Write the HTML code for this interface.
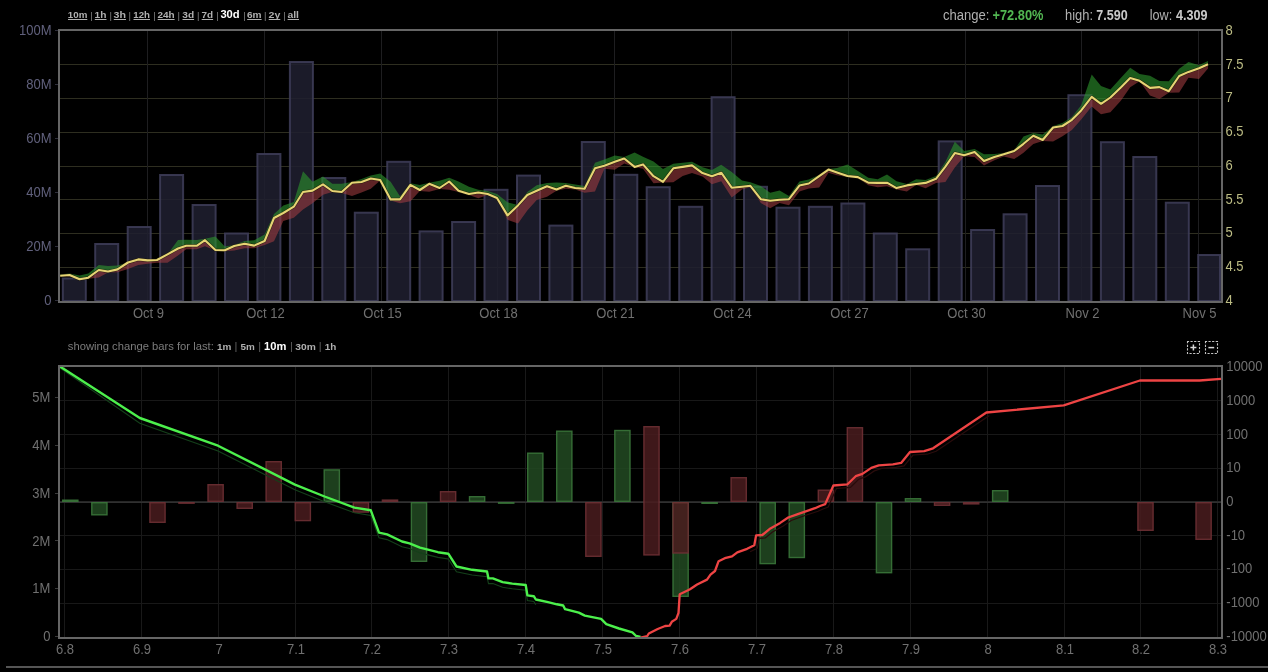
<!DOCTYPE html>
<html><head><meta charset="utf-8"><style>
html,body{margin:0;padding:0;background:#000;}
body{width:1268px;height:672px;overflow:hidden;position:relative;font-family:"Liberation Sans",Arial,sans-serif;}
svg{position:absolute;left:0;top:0;will-change:transform;}
svg text{font-family:"Liberation Sans",Arial,sans-serif;}
</style></head><body>
<svg width="1268" height="672" viewBox="0 0 1268 672">
<line x1="60" x2="1221" y1="64.5" y2="64.5" stroke="#2e2e20" stroke-width="1"/>
<line x1="60" x2="1221" y1="98.5" y2="98.5" stroke="#2e2e20" stroke-width="1"/>
<line x1="60" x2="1221" y1="132.5" y2="132.5" stroke="#2e2e20" stroke-width="1"/>
<line x1="60" x2="1221" y1="166.5" y2="166.5" stroke="#2e2e20" stroke-width="1"/>
<line x1="60" x2="1221" y1="199.5" y2="199.5" stroke="#2e2e20" stroke-width="1"/>
<line x1="60" x2="1221" y1="233.5" y2="233.5" stroke="#2e2e20" stroke-width="1"/>
<line x1="60" x2="1221" y1="267.5" y2="267.5" stroke="#2e2e20" stroke-width="1"/>
<line x1="147.5" x2="147.5" y1="31" y2="301" stroke="#1e1e20" stroke-width="1"/>
<line x1="264.5" x2="264.5" y1="31" y2="301" stroke="#1e1e20" stroke-width="1"/>
<line x1="381.5" x2="381.5" y1="31" y2="301" stroke="#1e1e20" stroke-width="1"/>
<line x1="497.5" x2="497.5" y1="31" y2="301" stroke="#1e1e20" stroke-width="1"/>
<line x1="614.5" x2="614.5" y1="31" y2="301" stroke="#1e1e20" stroke-width="1"/>
<line x1="731.5" x2="731.5" y1="31" y2="301" stroke="#1e1e20" stroke-width="1"/>
<line x1="848.5" x2="848.5" y1="31" y2="301" stroke="#1e1e20" stroke-width="1"/>
<line x1="965.5" x2="965.5" y1="31" y2="301" stroke="#1e1e20" stroke-width="1"/>
<line x1="1081.5" x2="1081.5" y1="31" y2="301" stroke="#1e1e20" stroke-width="1"/>
<line x1="1198.5" x2="1198.5" y1="31" y2="301" stroke="#1e1e20" stroke-width="1"/>
<rect x="62.8" y="278.5" width="23.0" height="22.5" fill="rgba(32,31,48,0.86)" stroke="rgba(62,60,88,0.88)" stroke-width="2"/>
<rect x="95.2" y="244.0" width="23.0" height="57.0" fill="rgba(32,31,48,0.86)" stroke="rgba(62,60,88,0.88)" stroke-width="2"/>
<rect x="127.7" y="227.0" width="23.0" height="74.0" fill="rgba(32,31,48,0.86)" stroke="rgba(62,60,88,0.88)" stroke-width="2"/>
<rect x="160.1" y="175.0" width="23.0" height="126.0" fill="rgba(32,31,48,0.86)" stroke="rgba(62,60,88,0.88)" stroke-width="2"/>
<rect x="192.6" y="205.0" width="23.0" height="96.0" fill="rgba(32,31,48,0.86)" stroke="rgba(62,60,88,0.88)" stroke-width="2"/>
<rect x="225.0" y="233.5" width="23.0" height="67.5" fill="rgba(32,31,48,0.86)" stroke="rgba(62,60,88,0.88)" stroke-width="2"/>
<rect x="257.4" y="154.0" width="23.0" height="147.0" fill="rgba(32,31,48,0.86)" stroke="rgba(62,60,88,0.88)" stroke-width="2"/>
<rect x="289.9" y="62.0" width="23.0" height="239.0" fill="rgba(32,31,48,0.86)" stroke="rgba(62,60,88,0.88)" stroke-width="2"/>
<rect x="322.3" y="178.0" width="23.0" height="123.0" fill="rgba(32,31,48,0.86)" stroke="rgba(62,60,88,0.88)" stroke-width="2"/>
<rect x="354.8" y="212.7" width="23.0" height="88.3" fill="rgba(32,31,48,0.86)" stroke="rgba(62,60,88,0.88)" stroke-width="2"/>
<rect x="387.2" y="161.8" width="23.0" height="139.2" fill="rgba(32,31,48,0.86)" stroke="rgba(62,60,88,0.88)" stroke-width="2"/>
<rect x="419.6" y="231.4" width="23.0" height="69.6" fill="rgba(32,31,48,0.86)" stroke="rgba(62,60,88,0.88)" stroke-width="2"/>
<rect x="452.1" y="222.0" width="23.0" height="79.0" fill="rgba(32,31,48,0.86)" stroke="rgba(62,60,88,0.88)" stroke-width="2"/>
<rect x="484.5" y="189.8" width="23.0" height="111.2" fill="rgba(32,31,48,0.86)" stroke="rgba(62,60,88,0.88)" stroke-width="2"/>
<rect x="517.0" y="175.6" width="23.0" height="125.4" fill="rgba(32,31,48,0.86)" stroke="rgba(62,60,88,0.88)" stroke-width="2"/>
<rect x="549.4" y="225.6" width="23.0" height="75.4" fill="rgba(32,31,48,0.86)" stroke="rgba(62,60,88,0.88)" stroke-width="2"/>
<rect x="581.8" y="142.0" width="23.0" height="159.0" fill="rgba(32,31,48,0.86)" stroke="rgba(62,60,88,0.88)" stroke-width="2"/>
<rect x="614.3" y="174.8" width="23.0" height="126.2" fill="rgba(32,31,48,0.86)" stroke="rgba(62,60,88,0.88)" stroke-width="2"/>
<rect x="646.7" y="187.2" width="23.0" height="113.8" fill="rgba(32,31,48,0.86)" stroke="rgba(62,60,88,0.88)" stroke-width="2"/>
<rect x="679.2" y="206.8" width="23.0" height="94.2" fill="rgba(32,31,48,0.86)" stroke="rgba(62,60,88,0.88)" stroke-width="2"/>
<rect x="711.6" y="97.2" width="23.0" height="203.8" fill="rgba(32,31,48,0.86)" stroke="rgba(62,60,88,0.88)" stroke-width="2"/>
<rect x="744.0" y="186.8" width="23.0" height="114.2" fill="rgba(32,31,48,0.86)" stroke="rgba(62,60,88,0.88)" stroke-width="2"/>
<rect x="776.5" y="207.7" width="23.0" height="93.3" fill="rgba(32,31,48,0.86)" stroke="rgba(62,60,88,0.88)" stroke-width="2"/>
<rect x="808.9" y="206.8" width="23.0" height="94.2" fill="rgba(32,31,48,0.86)" stroke="rgba(62,60,88,0.88)" stroke-width="2"/>
<rect x="841.4" y="203.5" width="23.0" height="97.5" fill="rgba(32,31,48,0.86)" stroke="rgba(62,60,88,0.88)" stroke-width="2"/>
<rect x="873.8" y="233.5" width="23.0" height="67.5" fill="rgba(32,31,48,0.86)" stroke="rgba(62,60,88,0.88)" stroke-width="2"/>
<rect x="906.2" y="249.3" width="23.0" height="51.7" fill="rgba(32,31,48,0.86)" stroke="rgba(62,60,88,0.88)" stroke-width="2"/>
<rect x="938.7" y="141.4" width="23.0" height="159.6" fill="rgba(32,31,48,0.86)" stroke="rgba(62,60,88,0.88)" stroke-width="2"/>
<rect x="971.1" y="230.0" width="23.0" height="71.0" fill="rgba(32,31,48,0.86)" stroke="rgba(62,60,88,0.88)" stroke-width="2"/>
<rect x="1003.6" y="214.3" width="23.0" height="86.7" fill="rgba(32,31,48,0.86)" stroke="rgba(62,60,88,0.88)" stroke-width="2"/>
<rect x="1036.0" y="186.0" width="23.0" height="115.0" fill="rgba(32,31,48,0.86)" stroke="rgba(62,60,88,0.88)" stroke-width="2"/>
<rect x="1068.4" y="95.2" width="23.0" height="205.8" fill="rgba(32,31,48,0.86)" stroke="rgba(62,60,88,0.88)" stroke-width="2"/>
<rect x="1100.9" y="142.2" width="23.0" height="158.8" fill="rgba(32,31,48,0.86)" stroke="rgba(62,60,88,0.88)" stroke-width="2"/>
<rect x="1133.3" y="157.0" width="23.0" height="144.0" fill="rgba(32,31,48,0.86)" stroke="rgba(62,60,88,0.88)" stroke-width="2"/>
<rect x="1165.8" y="202.7" width="23.0" height="98.3" fill="rgba(32,31,48,0.86)" stroke="rgba(62,60,88,0.88)" stroke-width="2"/>
<rect x="1198.2" y="255.0" width="21.8" height="46.0" fill="rgba(32,31,48,0.86)" stroke="rgba(62,60,88,0.88)" stroke-width="2"/>
<path d="M60.2,274.5 L69.6,273.5 L79.6,275.5 L88.3,273.5 L98.8,265.0 L108.0,266.0 L117.5,265.5 L128.0,262.5 L138.3,259.4 L147.7,260.4 L157.0,260.0 L167.5,254.4 L178.0,240.0 L186.2,239.8 L196.7,240.0 L205.0,238.8 L215.4,236.5 L224.8,246.5 L234.2,245.0 L244.6,241.0 L254.2,240.2 L264.6,234.4 L274.0,214.0 L283.3,205.5 L293.8,202.0 L303.0,171.3 L312.5,181.7 L323.0,176.5 L332.3,183.8 L341.7,183.8 L352.0,182.0 L361.5,179.0 L370.8,175.5 L380.2,173.4 L390.6,181.7 L400.0,196.3 L410.4,183.3 L419.8,185.0 L429.2,182.7 L439.6,180.7 L449.2,177.8 L458.5,181.5 L469.0,186.7 L478.3,189.8 L487.7,190.9 L497.0,194.0 L507.5,202.3 L518.0,205.1 L527.3,192.0 L536.7,185.2 L547.0,183.0 L556.5,182.5 L565.8,183.0 L575.2,184.6 L584.6,186.0 L595.0,162.8 L604.4,159.6 L614.8,155.5 L624.2,157.0 L634.6,152.5 L643.0,156.7 L653.5,161.5 L663.0,169.0 L673.3,163.8 L682.7,162.7 L692.0,161.7 L702.5,167.3 L711.9,170.0 L721.2,164.8 L731.7,172.1 L742.0,180.5 L750.4,182.2 L760.8,186.1 L770.2,192.8 L779.6,190.5 L789.0,196.0 L799.4,181.5 L808.8,179.4 L819.2,175.0 L828.5,169.0 L837.0,168.1 L847.5,164.6 L857.9,170.9 L868.3,177.8 L877.7,179.2 L887.0,174.4 L896.5,181.3 L906.9,184.0 L916.2,179.2 L925.6,180.0 L936.0,176.0 L945.4,162.0 L954.8,141.7 L964.2,151.1 L974.6,149.0 L984.0,154.2 L994.4,154.0 L1003.8,153.0 L1014.2,150.0 L1023.5,136.5 L1033.3,133.0 L1042.7,134.4 L1053.1,126.0 L1062.5,123.0 L1071.9,117.0 L1081.2,105.2 L1091.7,74.4 L1101.0,86.1 L1110.4,89.6 L1120.8,78.1 L1130.2,67.8 L1139.6,74.0 L1150.0,75.7 L1159.4,80.9 L1168.8,81.3 L1179.2,68.8 L1188.5,61.9 L1199.0,65.2 L1208.0,61.0 L1208.0,64.2 L1199.0,68.3 L1188.5,71.9 L1179.2,76.0 L1168.8,91.2 L1159.4,87.1 L1150.0,87.9 L1139.6,80.8 L1130.2,78.1 L1120.8,87.5 L1110.4,97.5 L1101.0,103.8 L1091.7,96.9 L1081.2,110.4 L1071.9,119.8 L1062.5,126.0 L1053.1,127.5 L1042.7,140.0 L1033.3,135.8 L1023.5,143.8 L1014.2,151.0 L1003.8,154.2 L994.4,156.9 L984.0,161.0 L974.6,152.1 L964.2,155.2 L954.8,153.1 L945.4,166.7 L936.0,178.8 L925.6,182.9 L916.2,184.0 L906.9,185.4 L896.5,188.1 L887.0,182.7 L877.7,182.9 L868.3,182.7 L857.9,177.1 L847.5,176.0 L837.0,172.5 L828.5,169.6 L819.2,176.2 L808.8,183.5 L799.4,185.6 L789.0,199.2 L779.6,199.8 L770.2,200.8 L760.8,199.2 L750.4,185.8 L742.0,186.7 L731.7,187.7 L721.2,172.7 L711.9,176.2 L702.5,173.1 L692.0,165.4 L682.7,166.9 L673.3,168.3 L663.0,181.9 L653.5,176.2 L643.0,164.4 L634.6,166.9 L624.2,158.5 L614.8,161.7 L604.4,165.8 L595.0,168.3 L584.6,188.8 L575.2,188.0 L565.8,185.8 L556.5,189.4 L547.0,186.2 L536.7,190.8 L527.3,195.0 L518.0,205.4 L507.5,215.4 L497.0,198.0 L487.7,194.0 L478.3,192.5 L469.0,194.0 L458.5,190.8 L449.2,181.5 L439.6,188.0 L429.2,183.8 L419.8,190.0 L410.4,184.8 L400.0,199.4 L390.6,199.4 L380.2,180.0 L370.8,178.5 L361.5,182.0 L352.0,182.7 L341.7,192.0 L332.3,191.0 L323.0,184.4 L312.5,190.6 L303.0,192.0 L293.8,206.7 L283.3,213.0 L274.0,218.0 L264.6,241.0 L254.2,245.6 L244.6,243.8 L234.2,246.0 L224.8,250.2 L215.4,250.0 L205.0,240.2 L196.7,245.8 L186.2,245.8 L178.0,248.5 L167.5,254.4 L157.0,260.0 L147.7,260.4 L138.3,259.4 L128.0,262.5 L117.5,269.4 L108.0,271.5 L98.8,270.0 L88.3,277.7 L79.6,279.2 L69.6,275.0 L60.2,275.8 Z" fill="rgba(45,150,45,0.6)"/>
<path d="M60.2,275.8 L69.6,275.0 L79.6,279.2 L88.3,277.7 L98.8,270.0 L108.0,271.5 L117.5,269.4 L128.0,262.5 L138.3,259.4 L147.7,260.4 L157.0,260.0 L167.5,254.4 L178.0,248.5 L186.2,245.8 L196.7,245.8 L205.0,240.2 L215.4,250.0 L224.8,250.2 L234.2,246.0 L244.6,243.8 L254.2,245.6 L264.6,241.0 L274.0,218.0 L283.3,213.0 L293.8,206.7 L303.0,192.0 L312.5,190.6 L323.0,184.4 L332.3,191.0 L341.7,192.0 L352.0,182.7 L361.5,182.0 L370.8,178.5 L380.2,180.0 L390.6,199.4 L400.0,199.4 L410.4,184.8 L419.8,190.0 L429.2,183.8 L439.6,188.0 L449.2,181.5 L458.5,190.8 L469.0,194.0 L478.3,192.5 L487.7,194.0 L497.0,198.0 L507.5,215.4 L518.0,205.4 L527.3,195.0 L536.7,190.8 L547.0,186.2 L556.5,189.4 L565.8,185.8 L575.2,188.0 L584.6,188.8 L595.0,168.3 L604.4,165.8 L614.8,161.7 L624.2,158.5 L634.6,166.9 L643.0,164.4 L653.5,176.2 L663.0,181.9 L673.3,168.3 L682.7,166.9 L692.0,165.4 L702.5,173.1 L711.9,176.2 L721.2,172.7 L731.7,187.7 L742.0,186.7 L750.4,185.8 L760.8,199.2 L770.2,200.8 L779.6,199.8 L789.0,199.2 L799.4,185.6 L808.8,183.5 L819.2,176.2 L828.5,169.6 L837.0,172.5 L847.5,176.0 L857.9,177.1 L868.3,182.7 L877.7,182.9 L887.0,182.7 L896.5,188.1 L906.9,185.4 L916.2,184.0 L925.6,182.9 L936.0,178.8 L945.4,166.7 L954.8,153.1 L964.2,155.2 L974.6,152.1 L984.0,161.0 L994.4,156.9 L1003.8,154.2 L1014.2,151.0 L1023.5,143.8 L1033.3,135.8 L1042.7,140.0 L1053.1,127.5 L1062.5,126.0 L1071.9,119.8 L1081.2,110.4 L1091.7,96.9 L1101.0,103.8 L1110.4,97.5 L1120.8,87.5 L1130.2,78.1 L1139.6,80.8 L1150.0,87.9 L1159.4,87.1 L1168.8,91.2 L1179.2,76.0 L1188.5,71.9 L1199.0,68.3 L1208.0,64.2 L1208.0,68.5 L1199.0,79.1 L1188.5,77.8 L1179.2,92.5 L1168.8,92.7 L1159.4,99.1 L1150.0,95.6 L1139.6,81.2 L1130.2,87.3 L1120.8,100.8 L1110.4,112.3 L1101.0,114.3 L1091.7,106.6 L1081.2,119.5 L1071.9,130.0 L1062.5,136.2 L1053.1,141.4 L1042.7,141.0 L1033.3,144.1 L1023.5,152.8 L1014.2,159.1 L1003.8,156.6 L994.4,160.2 L984.0,165.4 L974.6,157.1 L964.2,156.2 L954.8,167.5 L945.4,182.1 L936.0,183.1 L925.6,188.3 L916.2,185.0 L906.9,191.4 L896.5,189.6 L887.0,186.2 L877.7,187.3 L868.3,185.2 L857.9,178.0 L847.5,177.0 L837.0,175.3 L828.5,172.8 L819.2,187.5 L808.8,188.5 L799.4,191.6 L789.0,205.2 L779.6,203.1 L770.2,208.3 L760.8,203.1 L750.4,187.0 L742.0,189.6 L731.7,197.5 L721.2,181.2 L711.9,184.3 L702.5,176.6 L692.0,172.9 L682.7,176.0 L673.3,182.3 L663.0,182.5 L653.5,183.3 L643.0,168.7 L634.6,167.0 L624.2,163.5 L614.8,169.8 L604.4,168.8 L595.0,191.6 L584.6,192.7 L575.2,189.5 L565.8,188.8 L556.5,190.8 L547.0,196.8 L536.7,200.0 L527.3,210.4 L518.0,223.5 L507.5,219.8 L497.0,199.0 L487.7,195.0 L478.3,198.3 L469.0,195.0 L458.5,192.0 L449.2,189.8 L439.6,189.0 L429.2,191.8 L419.8,191.0 L410.4,201.2 L400.0,203.3 L390.6,200.4 L380.2,180.6 L370.8,188.8 L361.5,192.4 L352.0,196.0 L341.7,193.0 L332.3,192.0 L323.0,194.8 L312.5,203.3 L303.0,209.6 L293.8,217.8 L283.3,221.0 L274.0,241.2 L264.6,245.1 L254.2,248.3 L244.6,248.3 L234.2,250.4 L224.8,251.2 L215.4,250.6 L205.0,246.2 L196.7,249.3 L186.2,249.3 L178.0,255.6 L167.5,262.8 L157.0,262.8 L147.7,263.8 L138.3,265.0 L128.0,269.1 L117.5,272.3 L108.0,272.5 L98.8,277.6 L88.3,278.8 L79.6,280.0 L69.6,276.5 L60.2,276.5 Z" fill="rgba(165,62,66,0.56)"/>
<path d="M60.2,275.8 L69.6,275.0 L79.6,279.2 L88.3,277.7 L98.8,270.0 L108.0,271.5 L117.5,269.4 L128.0,262.5 L138.3,259.4 L147.7,260.4 L157.0,260.0 L167.5,254.4 L178.0,248.5 L186.2,245.8 L196.7,245.8 L205.0,240.2 L215.4,250.0 L224.8,250.2 L234.2,246.0 L244.6,243.8 L254.2,245.6 L264.6,241.0 L274.0,218.0 L283.3,213.0 L293.8,206.7 L303.0,192.0 L312.5,190.6 L323.0,184.4 L332.3,191.0 L341.7,192.0 L352.0,182.7 L361.5,182.0 L370.8,178.5 L380.2,180.0 L390.6,199.4 L400.0,199.4 L410.4,184.8 L419.8,190.0 L429.2,183.8 L439.6,188.0 L449.2,181.5 L458.5,190.8 L469.0,194.0 L478.3,192.5 L487.7,194.0 L497.0,198.0 L507.5,215.4 L518.0,205.4 L527.3,195.0 L536.7,190.8 L547.0,186.2 L556.5,189.4 L565.8,185.8 L575.2,188.0 L584.6,188.8 L595.0,168.3 L604.4,165.8 L614.8,161.7 L624.2,158.5 L634.6,166.9 L643.0,164.4 L653.5,176.2 L663.0,181.9 L673.3,168.3 L682.7,166.9 L692.0,165.4 L702.5,173.1 L711.9,176.2 L721.2,172.7 L731.7,187.7 L742.0,186.7 L750.4,185.8 L760.8,199.2 L770.2,200.8 L779.6,199.8 L789.0,199.2 L799.4,185.6 L808.8,183.5 L819.2,176.2 L828.5,169.6 L837.0,172.5 L847.5,176.0 L857.9,177.1 L868.3,182.7 L877.7,182.9 L887.0,182.7 L896.5,188.1 L906.9,185.4 L916.2,184.0 L925.6,182.9 L936.0,178.8 L945.4,166.7 L954.8,153.1 L964.2,155.2 L974.6,152.1 L984.0,161.0 L994.4,156.9 L1003.8,154.2 L1014.2,151.0 L1023.5,143.8 L1033.3,135.8 L1042.7,140.0 L1053.1,127.5 L1062.5,126.0 L1071.9,119.8 L1081.2,110.4 L1091.7,96.9 L1101.0,103.8 L1110.4,97.5 L1120.8,87.5 L1130.2,78.1 L1139.6,80.8 L1150.0,87.9 L1159.4,87.1 L1168.8,91.2 L1179.2,76.0 L1188.5,71.9 L1199.0,68.3 L1208.0,64.2" fill="none" stroke="rgba(30,24,8,0.75)" stroke-width="3.1" stroke-linejoin="round"/>
<path d="M60.2,275.8 L69.6,275.0 L79.6,279.2 L88.3,277.7 L98.8,270.0 L108.0,271.5 L117.5,269.4 L128.0,262.5 L138.3,259.4 L147.7,260.4 L157.0,260.0 L167.5,254.4 L178.0,248.5 L186.2,245.8 L196.7,245.8 L205.0,240.2 L215.4,250.0 L224.8,250.2 L234.2,246.0 L244.6,243.8 L254.2,245.6 L264.6,241.0 L274.0,218.0 L283.3,213.0 L293.8,206.7 L303.0,192.0 L312.5,190.6 L323.0,184.4 L332.3,191.0 L341.7,192.0 L352.0,182.7 L361.5,182.0 L370.8,178.5 L380.2,180.0 L390.6,199.4 L400.0,199.4 L410.4,184.8 L419.8,190.0 L429.2,183.8 L439.6,188.0 L449.2,181.5 L458.5,190.8 L469.0,194.0 L478.3,192.5 L487.7,194.0 L497.0,198.0 L507.5,215.4 L518.0,205.4 L527.3,195.0 L536.7,190.8 L547.0,186.2 L556.5,189.4 L565.8,185.8 L575.2,188.0 L584.6,188.8 L595.0,168.3 L604.4,165.8 L614.8,161.7 L624.2,158.5 L634.6,166.9 L643.0,164.4 L653.5,176.2 L663.0,181.9 L673.3,168.3 L682.7,166.9 L692.0,165.4 L702.5,173.1 L711.9,176.2 L721.2,172.7 L731.7,187.7 L742.0,186.7 L750.4,185.8 L760.8,199.2 L770.2,200.8 L779.6,199.8 L789.0,199.2 L799.4,185.6 L808.8,183.5 L819.2,176.2 L828.5,169.6 L837.0,172.5 L847.5,176.0 L857.9,177.1 L868.3,182.7 L877.7,182.9 L887.0,182.7 L896.5,188.1 L906.9,185.4 L916.2,184.0 L925.6,182.9 L936.0,178.8 L945.4,166.7 L954.8,153.1 L964.2,155.2 L974.6,152.1 L984.0,161.0 L994.4,156.9 L1003.8,154.2 L1014.2,151.0 L1023.5,143.8 L1033.3,135.8 L1042.7,140.0 L1053.1,127.5 L1062.5,126.0 L1071.9,119.8 L1081.2,110.4 L1091.7,96.9 L1101.0,103.8 L1110.4,97.5 L1120.8,87.5 L1130.2,78.1 L1139.6,80.8 L1150.0,87.9 L1159.4,87.1 L1168.8,91.2 L1179.2,76.0 L1188.5,71.9 L1199.0,68.3 L1208.0,64.2" fill="none" stroke="#e6d474" stroke-width="2.1" stroke-linejoin="round"/>
<path d="M59,302 L59,30 L1222,30 L1222,302 Z" fill="none" stroke="#666" stroke-width="2"/>
<line x1="60" x2="1221" y1="400.5" y2="400.5" stroke="#181818" stroke-width="1"/>
<line x1="60" x2="1221" y1="434.5" y2="434.5" stroke="#181818" stroke-width="1"/>
<line x1="60" x2="1221" y1="468.5" y2="468.5" stroke="#181818" stroke-width="1"/>
<line x1="60" x2="1221" y1="535.5" y2="535.5" stroke="#181818" stroke-width="1"/>
<line x1="60" x2="1221" y1="569.5" y2="569.5" stroke="#181818" stroke-width="1"/>
<line x1="60" x2="1221" y1="603.5" y2="603.5" stroke="#181818" stroke-width="1"/>
<line x1="64.5" x2="64.5" y1="367" y2="637" stroke="#191919" stroke-width="1"/>
<line x1="141.5" x2="141.5" y1="367" y2="637" stroke="#191919" stroke-width="1"/>
<line x1="218.5" x2="218.5" y1="367" y2="637" stroke="#191919" stroke-width="1"/>
<line x1="295.5" x2="295.5" y1="367" y2="637" stroke="#191919" stroke-width="1"/>
<line x1="371.5" x2="371.5" y1="367" y2="637" stroke="#191919" stroke-width="1"/>
<line x1="448.5" x2="448.5" y1="367" y2="637" stroke="#191919" stroke-width="1"/>
<line x1="525.5" x2="525.5" y1="367" y2="637" stroke="#191919" stroke-width="1"/>
<line x1="602.5" x2="602.5" y1="367" y2="637" stroke="#191919" stroke-width="1"/>
<line x1="679.5" x2="679.5" y1="367" y2="637" stroke="#191919" stroke-width="1"/>
<line x1="756.5" x2="756.5" y1="367" y2="637" stroke="#191919" stroke-width="1"/>
<line x1="833.5" x2="833.5" y1="367" y2="637" stroke="#191919" stroke-width="1"/>
<line x1="910.5" x2="910.5" y1="367" y2="637" stroke="#191919" stroke-width="1"/>
<line x1="987.5" x2="987.5" y1="367" y2="637" stroke="#191919" stroke-width="1"/>
<line x1="1064.5" x2="1064.5" y1="367" y2="637" stroke="#191919" stroke-width="1"/>
<line x1="1140.5" x2="1140.5" y1="367" y2="637" stroke="#191919" stroke-width="1"/>
<line x1="1217.5" x2="1217.5" y1="367" y2="637" stroke="#191919" stroke-width="1"/>
<line x1="60" x2="1221" y1="501.5" y2="501.5" stroke="#262626" stroke-width="1"/>
<line x1="60" x2="1221" y1="502.5" y2="502.5" stroke="#303030" stroke-width="1"/>
<line x1="55" x2="58" y1="636.5" y2="636.5" stroke="#3a3a3a" stroke-width="1"/>
<line x1="55" x2="58" y1="588.5" y2="588.5" stroke="#3a3a3a" stroke-width="1"/>
<line x1="55" x2="58" y1="540.5" y2="540.5" stroke="#3a3a3a" stroke-width="1"/>
<line x1="55" x2="58" y1="493.5" y2="493.5" stroke="#3a3a3a" stroke-width="1"/>
<line x1="55" x2="58" y1="445.5" y2="445.5" stroke="#3a3a3a" stroke-width="1"/>
<line x1="55" x2="58" y1="397.5" y2="397.5" stroke="#3a3a3a" stroke-width="1"/>
<line x1="55" x2="58" y1="30.5" y2="30.5" stroke="#2e2e3a" stroke-width="1"/>
<line x1="55" x2="58" y1="84.5" y2="84.5" stroke="#2e2e3a" stroke-width="1"/>
<line x1="55" x2="58" y1="138.5" y2="138.5" stroke="#2e2e3a" stroke-width="1"/>
<line x1="55" x2="58" y1="192.5" y2="192.5" stroke="#2e2e3a" stroke-width="1"/>
<line x1="55" x2="58" y1="246.5" y2="246.5" stroke="#2e2e3a" stroke-width="1"/>
<line x1="55" x2="58" y1="300.5" y2="300.5" stroke="#2e2e3a" stroke-width="1"/>
<rect x="62.7" y="500.2" width="15.2" height="1.1" fill="rgba(34,74,34,0.85)" stroke="rgba(58,118,58,0.9)" stroke-width="1.4"/>
<rect x="91.8" y="502.7" width="15.2" height="12.1" fill="rgba(34,74,34,0.85)" stroke="rgba(58,118,58,0.9)" stroke-width="1.4"/>
<rect x="149.9" y="502.7" width="15.2" height="19.6" fill="rgba(74,28,30,0.85)" stroke="rgba(110,48,52,0.9)" stroke-width="1.4"/>
<rect x="178.9" y="502.7" width="15.2" height="0.5" fill="rgba(74,28,30,0.85)" stroke="rgba(110,48,52,0.9)" stroke-width="1.4"/>
<rect x="208.0" y="484.7" width="15.2" height="16.6" fill="rgba(74,28,30,0.85)" stroke="rgba(110,48,52,0.9)" stroke-width="1.4"/>
<rect x="237.1" y="502.7" width="15.2" height="5.6" fill="rgba(74,28,30,0.85)" stroke="rgba(110,48,52,0.9)" stroke-width="1.4"/>
<rect x="266.1" y="461.7" width="15.2" height="39.6" fill="rgba(74,28,30,0.85)" stroke="rgba(110,48,52,0.9)" stroke-width="1.4"/>
<rect x="295.2" y="502.7" width="15.2" height="17.9" fill="rgba(74,28,30,0.85)" stroke="rgba(110,48,52,0.9)" stroke-width="1.4"/>
<rect x="324.2" y="469.9" width="15.2" height="31.4" fill="rgba(34,74,34,0.85)" stroke="rgba(58,118,58,0.9)" stroke-width="1.4"/>
<rect x="353.3" y="502.7" width="15.2" height="9.4" fill="rgba(74,28,30,0.85)" stroke="rgba(110,48,52,0.9)" stroke-width="1.4"/>
<rect x="382.4" y="500.1" width="15.2" height="1.2" fill="rgba(74,28,30,0.85)" stroke="rgba(110,48,52,0.9)" stroke-width="1.4"/>
<rect x="411.4" y="502.7" width="15.2" height="58.6" fill="rgba(34,74,34,0.85)" stroke="rgba(58,118,58,0.9)" stroke-width="1.4"/>
<rect x="440.5" y="491.7" width="15.2" height="9.6" fill="rgba(74,28,30,0.85)" stroke="rgba(110,48,52,0.9)" stroke-width="1.4"/>
<rect x="469.5" y="496.7" width="15.2" height="4.6" fill="rgba(34,74,34,0.85)" stroke="rgba(58,118,58,0.9)" stroke-width="1.4"/>
<rect x="498.6" y="502.7" width="15.2" height="0.5" fill="rgba(34,74,34,0.85)" stroke="rgba(58,118,58,0.9)" stroke-width="1.4"/>
<rect x="527.7" y="453.2" width="15.2" height="48.1" fill="rgba(34,74,34,0.85)" stroke="rgba(58,118,58,0.9)" stroke-width="1.4"/>
<rect x="556.7" y="431.2" width="15.2" height="70.1" fill="rgba(34,74,34,0.85)" stroke="rgba(58,118,58,0.9)" stroke-width="1.4"/>
<rect x="585.8" y="502.7" width="15.2" height="53.6" fill="rgba(74,28,30,0.85)" stroke="rgba(110,48,52,0.9)" stroke-width="1.4"/>
<rect x="614.8" y="430.5" width="15.2" height="70.8" fill="rgba(34,74,34,0.85)" stroke="rgba(58,118,58,0.9)" stroke-width="1.4"/>
<rect x="643.9" y="426.7" width="15.2" height="128.2" fill="rgba(74,28,30,0.85)" stroke="rgba(110,48,52,0.9)" stroke-width="1.4"/>
<rect x="673.0" y="502.7" width="15.2" height="93.6" fill="rgba(34,74,34,0.85)" stroke="rgba(58,118,58,0.9)" stroke-width="1.4"/>
<rect x="673.0" y="502.7" width="15.2" height="50.3" fill="rgba(74,28,30,0.85)" stroke="rgba(110,48,52,0.9)" stroke-width="1.4"/>
<rect x="702.0" y="502.7" width="15.2" height="0.6" fill="rgba(34,74,34,0.85)" stroke="rgba(58,118,58,0.9)" stroke-width="1.4"/>
<rect x="731.1" y="477.7" width="15.2" height="23.6" fill="rgba(74,28,30,0.85)" stroke="rgba(110,48,52,0.9)" stroke-width="1.4"/>
<rect x="760.1" y="502.7" width="15.2" height="60.9" fill="rgba(34,74,34,0.85)" stroke="rgba(58,118,58,0.9)" stroke-width="1.4"/>
<rect x="789.2" y="502.7" width="15.2" height="54.8" fill="rgba(34,74,34,0.85)" stroke="rgba(58,118,58,0.9)" stroke-width="1.4"/>
<rect x="818.3" y="490.2" width="15.2" height="11.1" fill="rgba(74,28,30,0.85)" stroke="rgba(110,48,52,0.9)" stroke-width="1.4"/>
<rect x="847.3" y="427.7" width="15.2" height="73.6" fill="rgba(74,28,30,0.85)" stroke="rgba(110,48,52,0.9)" stroke-width="1.4"/>
<rect x="876.4" y="502.7" width="15.2" height="70.0" fill="rgba(34,74,34,0.85)" stroke="rgba(58,118,58,0.9)" stroke-width="1.4"/>
<rect x="905.4" y="498.7" width="15.2" height="2.6" fill="rgba(34,74,34,0.85)" stroke="rgba(58,118,58,0.9)" stroke-width="1.4"/>
<rect x="934.5" y="502.7" width="15.2" height="2.6" fill="rgba(74,28,30,0.85)" stroke="rgba(110,48,52,0.9)" stroke-width="1.4"/>
<rect x="963.6" y="502.7" width="15.2" height="1.2" fill="rgba(74,28,30,0.85)" stroke="rgba(110,48,52,0.9)" stroke-width="1.4"/>
<rect x="992.6" y="490.7" width="15.2" height="10.6" fill="rgba(34,74,34,0.85)" stroke="rgba(58,118,58,0.9)" stroke-width="1.4"/>
<rect x="1137.9" y="502.7" width="15.2" height="27.6" fill="rgba(74,28,30,0.85)" stroke="rgba(110,48,52,0.9)" stroke-width="1.4"/>
<rect x="1196.0" y="502.7" width="15.2" height="36.6" fill="rgba(74,28,30,0.85)" stroke="rgba(110,48,52,0.9)" stroke-width="1.4"/>
<path d="M60.0,368.0 L139.8,423.2 L218.0,450.9 L294.9,489.8 L324.6,501.7 L354.4,512.8 L370.8,515.5 L379.0,537.8 L387.1,539.6 L402.0,546.7 L409.5,548.5 L420.0,552.9 L437.9,557.4 L448.3,558.9 L456.5,571.7 L472.1,575.0 L487.0,576.7 L488.5,583.6 L492.9,583.6 L502.6,587.3 L512.3,588.8 L525.7,590.2 L527.4,600.6 L533.8,601.5 L535.8,604.7" fill="none" stroke="#14401a" stroke-width="1.1" />
<path d="M60.0,366.5 L139.8,418.0 L218.0,445.7 L294.9,484.6 L324.6,496.5 L354.4,507.6 L370.8,510.3 L379.0,532.6 L387.1,534.4 L402.0,541.5 L409.5,543.3 L420.0,547.7 L437.9,552.2 L448.3,553.7 L456.5,566.5 L472.1,569.8 L487.0,571.5 L488.5,578.4 L492.9,578.4 L502.6,582.1 L512.3,583.6 L525.7,585.0 L527.4,595.4 L533.8,596.2 L535.8,599.5 L548.0,602.2 L556.9,604.3 L563.2,605.5 L565.1,609.2 L578.8,612.6 L584.8,615.6 L601.1,618.9 L606.3,624.1 L619.0,628.5 L632.4,632.3 L636.1,636.0 L640.6,637.0" fill="none" stroke="#4cf04c" stroke-width="2.4" stroke-linejoin="round"/>
<path d="M750.1,551.8 L757.3,548.2 L759.1,538.4 L765.3,538.0 L772.5,532.1 L783.2,525.9 L791.2,520.5 L800.1,517.3 L807.3,514.8 L818.0,511.2 L823.0,509.0 L828.2,507.1 L836.4,488.5 L850.5,487.3 L858.7,479.2 L865.4,476.9 L874.3,470.9 L881.8,468.4 L895.9,467.3 L904.1,465.9 L913.0,455.0 L927.2,454.2 L936.1,451.3 L989.4,415.5" fill="none" stroke="#2a0c0c" stroke-width="1.2" />
<path d="M640.6,637.5 L647.3,636.0 L648.8,633.5 L657.7,629.0 L665.1,626.0 L669.6,625.6 L671.8,621.8 L676.3,618.9 L678.5,612.9 L679.7,594.3 L686.0,591.3 L690.0,589.3 L697.1,584.5 L707.0,579.6 L710.5,574.6 L715.0,571.0 L718.6,561.2 L724.8,558.2 L732.0,556.4 L737.3,552.3 L747.1,548.8 L754.3,545.2 L756.1,535.4 L762.3,535.0 L769.5,529.1 L780.2,522.9 L788.2,517.5 L797.1,514.3 L804.3,511.8 L815.0,508.2 L820.0,506.0 L825.2,504.1 L833.4,485.5 L847.5,484.3 L855.7,476.2 L862.4,473.9 L871.3,467.9 L878.8,465.4 L892.9,464.3 L901.1,462.9 L910.0,452.0 L924.2,451.2 L933.1,448.3 L986.4,412.5 L1063.7,405.3 L1139.9,380.5 L1199.5,380.5 L1221.0,378.8" fill="none" stroke="#ee4444" stroke-width="2.3" stroke-linejoin="round"/>
<path d="M59,638 L59,366 L1222,366 L1222,638 Z" fill="none" stroke="#666" stroke-width="2"/>
<rect x="1187.5" y="341.5" width="12" height="12" fill="none" stroke="#c4c4c4" stroke-width="1.1" stroke-dasharray="2.2,1.4" stroke-dashoffset="0.6"/>
<rect x="1205.5" y="341.5" width="12" height="12" fill="none" stroke="#c4c4c4" stroke-width="1.1" stroke-dasharray="2.2,1.4" stroke-dashoffset="0.6"/>
<path d="M1190.4,347.6 H1196.4 M1193.4,344.6 V350.6" stroke="#d8d8d8" stroke-width="1.5"/>
<path d="M1208.4,347.6 H1214.2" stroke="#d8d8d8" stroke-width="1.5"/>
<line x1="6" x2="1268" y1="667" y2="667" stroke="#555" stroke-width="2"/>
<rect x="68.0" y="19" width="19.3" height="1" fill="#b0b0b0"/>
<rect x="94.8" y="19" width="11.7" height="1" fill="#b0b0b0"/>
<rect x="113.8" y="19" width="12.2" height="1" fill="#b0b0b0"/>
<rect x="133.5" y="19" width="16.5" height="1" fill="#b0b0b0"/>
<rect x="157.7" y="19" width="16.9" height="1" fill="#b0b0b0"/>
<rect x="182.5" y="19" width="11.6" height="1" fill="#b0b0b0"/>
<rect x="201.7" y="19" width="11.4" height="1" fill="#b0b0b0"/>
<rect x="247.2" y="19" width="14.4" height="1" fill="#b0b0b0"/>
<rect x="268.7" y="19" width="11.6" height="1" fill="#b0b0b0"/>
<rect x="287.6" y="19" width="11.4" height="1" fill="#b0b0b0"/>
<text transform="translate(51.5,35.3) scale(0.93,1)" fill="#60607c" font-size="14" text-anchor="end" font-weight="normal">100M</text>
<text transform="translate(51.5,89.2) scale(0.93,1)" fill="#60607c" font-size="14" text-anchor="end" font-weight="normal">80M</text>
<text transform="translate(51.5,143.1) scale(0.93,1)" fill="#60607c" font-size="14" text-anchor="end" font-weight="normal">60M</text>
<text transform="translate(51.5,197.1) scale(0.93,1)" fill="#60607c" font-size="14" text-anchor="end" font-weight="normal">40M</text>
<text transform="translate(51.5,251.0) scale(0.93,1)" fill="#60607c" font-size="14" text-anchor="end" font-weight="normal">20M</text>
<text transform="translate(51.5,304.9) scale(0.93,1)" fill="#60607c" font-size="14" text-anchor="end" font-weight="normal">0</text>
<text transform="translate(1225.5,35.0) scale(0.93,1)" fill="#bcbc84" font-size="14" text-anchor="start" font-weight="normal">8</text>
<text transform="translate(1225.5,68.7) scale(0.93,1)" fill="#bcbc84" font-size="14" text-anchor="start" font-weight="normal">7.5</text>
<text transform="translate(1225.5,102.4) scale(0.93,1)" fill="#bcbc84" font-size="14" text-anchor="start" font-weight="normal">7</text>
<text transform="translate(1225.5,136.2) scale(0.93,1)" fill="#bcbc84" font-size="14" text-anchor="start" font-weight="normal">6.5</text>
<text transform="translate(1225.5,169.9) scale(0.93,1)" fill="#bcbc84" font-size="14" text-anchor="start" font-weight="normal">6</text>
<text transform="translate(1225.5,203.6) scale(0.93,1)" fill="#bcbc84" font-size="14" text-anchor="start" font-weight="normal">5.5</text>
<text transform="translate(1225.5,237.3) scale(0.93,1)" fill="#bcbc84" font-size="14" text-anchor="start" font-weight="normal">5</text>
<text transform="translate(1225.5,271.0) scale(0.93,1)" fill="#bcbc84" font-size="14" text-anchor="start" font-weight="normal">4.5</text>
<text transform="translate(1225.5,304.8) scale(0.93,1)" fill="#bcbc84" font-size="14" text-anchor="start" font-weight="normal">4</text>
<text transform="translate(148.5,317.7) scale(0.93,1)" fill="#707070" font-size="14" text-anchor="middle" font-weight="normal">Oct 9</text>
<text transform="translate(265.5,317.7) scale(0.93,1)" fill="#707070" font-size="14" text-anchor="middle" font-weight="normal">Oct 12</text>
<text transform="translate(382.5,317.7) scale(0.93,1)" fill="#707070" font-size="14" text-anchor="middle" font-weight="normal">Oct 15</text>
<text transform="translate(498.5,317.7) scale(0.93,1)" fill="#707070" font-size="14" text-anchor="middle" font-weight="normal">Oct 18</text>
<text transform="translate(615.5,317.7) scale(0.93,1)" fill="#707070" font-size="14" text-anchor="middle" font-weight="normal">Oct 21</text>
<text transform="translate(732.5,317.7) scale(0.93,1)" fill="#707070" font-size="14" text-anchor="middle" font-weight="normal">Oct 24</text>
<text transform="translate(849.5,317.7) scale(0.93,1)" fill="#707070" font-size="14" text-anchor="middle" font-weight="normal">Oct 27</text>
<text transform="translate(966.5,317.7) scale(0.93,1)" fill="#707070" font-size="14" text-anchor="middle" font-weight="normal">Oct 30</text>
<text transform="translate(1082.5,317.7) scale(0.93,1)" fill="#707070" font-size="14" text-anchor="middle" font-weight="normal">Nov 2</text>
<text transform="translate(1199.5,317.7) scale(0.93,1)" fill="#707070" font-size="14" text-anchor="middle" font-weight="normal">Nov 5</text>
<text transform="translate(50.4,641.2) scale(0.93,1)" fill="#707070" font-size="14" text-anchor="end" font-weight="normal">0</text>
<text transform="translate(50.4,593.4) scale(0.93,1)" fill="#707070" font-size="14" text-anchor="end" font-weight="normal">1M</text>
<text transform="translate(50.4,545.6) scale(0.93,1)" fill="#707070" font-size="14" text-anchor="end" font-weight="normal">2M</text>
<text transform="translate(50.4,497.8) scale(0.93,1)" fill="#707070" font-size="14" text-anchor="end" font-weight="normal">3M</text>
<text transform="translate(50.4,450.0) scale(0.93,1)" fill="#707070" font-size="14" text-anchor="end" font-weight="normal">4M</text>
<text transform="translate(50.4,402.2) scale(0.93,1)" fill="#707070" font-size="14" text-anchor="end" font-weight="normal">5M</text>
<text transform="translate(1226.3,371.2) scale(0.93,1)" fill="#707070" font-size="14" text-anchor="start" font-weight="normal">10000</text>
<text transform="translate(1226.3,404.9) scale(0.93,1)" fill="#707070" font-size="14" text-anchor="start" font-weight="normal">1000</text>
<text transform="translate(1226.3,438.6) scale(0.93,1)" fill="#707070" font-size="14" text-anchor="start" font-weight="normal">100</text>
<text transform="translate(1226.3,472.3) scale(0.93,1)" fill="#707070" font-size="14" text-anchor="start" font-weight="normal">10</text>
<text transform="translate(1226.3,506.0) scale(0.93,1)" fill="#707070" font-size="14" text-anchor="start" font-weight="normal">0</text>
<text transform="translate(1226.3,539.7) scale(0.93,1)" fill="#707070" font-size="14" text-anchor="start" font-weight="normal">-10</text>
<text transform="translate(1226.3,573.4) scale(0.93,1)" fill="#707070" font-size="14" text-anchor="start" font-weight="normal">-100</text>
<text transform="translate(1226.3,607.1) scale(0.93,1)" fill="#707070" font-size="14" text-anchor="start" font-weight="normal">-1000</text>
<text transform="translate(1226.3,640.8) scale(0.93,1)" fill="#707070" font-size="14" text-anchor="start" font-weight="normal">-10000</text>
<text transform="translate(65.0,654) scale(0.93,1)" fill="#707070" font-size="14" text-anchor="middle" font-weight="normal">6.8</text>
<text transform="translate(142.0,654) scale(0.93,1)" fill="#707070" font-size="14" text-anchor="middle" font-weight="normal">6.9</text>
<text transform="translate(219.0,654) scale(0.93,1)" fill="#707070" font-size="14" text-anchor="middle" font-weight="normal">7</text>
<text transform="translate(296.0,654) scale(0.93,1)" fill="#707070" font-size="14" text-anchor="middle" font-weight="normal">7.1</text>
<text transform="translate(372.0,654) scale(0.93,1)" fill="#707070" font-size="14" text-anchor="middle" font-weight="normal">7.2</text>
<text transform="translate(449.0,654) scale(0.93,1)" fill="#707070" font-size="14" text-anchor="middle" font-weight="normal">7.3</text>
<text transform="translate(526.0,654) scale(0.93,1)" fill="#707070" font-size="14" text-anchor="middle" font-weight="normal">7.4</text>
<text transform="translate(603.0,654) scale(0.93,1)" fill="#707070" font-size="14" text-anchor="middle" font-weight="normal">7.5</text>
<text transform="translate(680.0,654) scale(0.93,1)" fill="#707070" font-size="14" text-anchor="middle" font-weight="normal">7.6</text>
<text transform="translate(757.0,654) scale(0.93,1)" fill="#707070" font-size="14" text-anchor="middle" font-weight="normal">7.7</text>
<text transform="translate(834.0,654) scale(0.93,1)" fill="#707070" font-size="14" text-anchor="middle" font-weight="normal">7.8</text>
<text transform="translate(911.0,654) scale(0.93,1)" fill="#707070" font-size="14" text-anchor="middle" font-weight="normal">7.9</text>
<text transform="translate(988.0,654) scale(0.93,1)" fill="#707070" font-size="14" text-anchor="middle" font-weight="normal">8</text>
<text transform="translate(1065.0,654) scale(0.93,1)" fill="#707070" font-size="14" text-anchor="middle" font-weight="normal">8.1</text>
<text transform="translate(1141.0,654) scale(0.93,1)" fill="#707070" font-size="14" text-anchor="middle" font-weight="normal">8.2</text>
<text transform="translate(1218.0,654) scale(0.93,1)" fill="#707070" font-size="14" text-anchor="middle" font-weight="normal">8.3</text>
<text x="67.8" y="18" fill="#b0b0b0" font-size="9.5" text-anchor="start" font-weight="bold" textLength="19.5" lengthAdjust="spacingAndGlyphs">10m</text>
<text x="94.6" y="18" fill="#b0b0b0" font-size="9.5" text-anchor="start" font-weight="bold" textLength="11.9" lengthAdjust="spacingAndGlyphs">1h</text>
<text x="113.6" y="18" fill="#b0b0b0" font-size="9.5" text-anchor="start" font-weight="bold" textLength="12.4" lengthAdjust="spacingAndGlyphs">3h</text>
<text x="133.3" y="18" fill="#b0b0b0" font-size="9.5" text-anchor="start" font-weight="bold" textLength="16.7" lengthAdjust="spacingAndGlyphs">12h</text>
<text x="157.5" y="18" fill="#b0b0b0" font-size="9.5" text-anchor="start" font-weight="bold" textLength="17.1" lengthAdjust="spacingAndGlyphs">24h</text>
<text x="182.3" y="18" fill="#b0b0b0" font-size="9.5" text-anchor="start" font-weight="bold" textLength="11.8" lengthAdjust="spacingAndGlyphs">3d</text>
<text x="201.5" y="18" fill="#b0b0b0" font-size="9.5" text-anchor="start" font-weight="bold" textLength="11.6" lengthAdjust="spacingAndGlyphs">7d</text>
<text x="220.4" y="18" fill="#ffffff" font-size="10.8" text-anchor="start" font-weight="bold" textLength="19.3" lengthAdjust="spacingAndGlyphs">30d</text>
<text x="247.0" y="18" fill="#b0b0b0" font-size="9.5" text-anchor="start" font-weight="bold" textLength="14.6" lengthAdjust="spacingAndGlyphs">6m</text>
<text x="268.5" y="18" fill="#b0b0b0" font-size="9.5" text-anchor="start" font-weight="bold" textLength="11.8" lengthAdjust="spacingAndGlyphs">2y</text>
<text x="287.4" y="18" fill="#b0b0b0" font-size="9.5" text-anchor="start" font-weight="bold" textLength="11.6" lengthAdjust="spacingAndGlyphs">all</text>
<text x="91.5" y="18.5" fill="#808080" font-size="9.5" text-anchor="middle" font-weight="normal">|</text>
<text x="110.8" y="18.5" fill="#808080" font-size="9.5" text-anchor="middle" font-weight="normal">|</text>
<text x="129.8" y="18.5" fill="#808080" font-size="9.5" text-anchor="middle" font-weight="normal">|</text>
<text x="154.4" y="18.5" fill="#808080" font-size="9.5" text-anchor="middle" font-weight="normal">|</text>
<text x="178.7" y="18.5" fill="#808080" font-size="9.5" text-anchor="middle" font-weight="normal">|</text>
<text x="198.2" y="18.5" fill="#808080" font-size="9.5" text-anchor="middle" font-weight="normal">|</text>
<text x="217.4" y="18.5" fill="#808080" font-size="9.5" text-anchor="middle" font-weight="normal">|</text>
<text x="244.4" y="18.5" fill="#808080" font-size="9.5" text-anchor="middle" font-weight="normal">|</text>
<text x="265.3" y="18.5" fill="#808080" font-size="9.5" text-anchor="middle" font-weight="normal">|</text>
<text x="284.6" y="18.5" fill="#808080" font-size="9.5" text-anchor="middle" font-weight="normal">|</text>
<text x="943" y="19.7" fill="#b0b0b0" font-size="14" text-anchor="start" font-weight="normal" textLength="46.5" lengthAdjust="spacingAndGlyphs">change:</text>
<text x="992.5" y="19.7" fill="#52b652" font-size="14" text-anchor="start" font-weight="bold" textLength="51" lengthAdjust="spacingAndGlyphs">+72.80%</text>
<text x="1065" y="19.7" fill="#b0b0b0" font-size="14" text-anchor="start" font-weight="normal" textLength="28" lengthAdjust="spacingAndGlyphs">high:</text>
<text x="1096.3" y="19.7" fill="#c8c8c8" font-size="14" text-anchor="start" font-weight="bold" textLength="31.4" lengthAdjust="spacingAndGlyphs">7.590</text>
<text x="1149.7" y="19.7" fill="#b0b0b0" font-size="14" text-anchor="start" font-weight="normal" textLength="22.5" lengthAdjust="spacingAndGlyphs">low:</text>
<text x="1176" y="19.7" fill="#c8c8c8" font-size="14" text-anchor="start" font-weight="bold" textLength="31.6" lengthAdjust="spacingAndGlyphs">4.309</text>
<text x="67.8" y="349.8" fill="#7c7c7c" font-size="11" text-anchor="start" font-weight="normal" textLength="146" lengthAdjust="spacingAndGlyphs">showing change bars for last:</text>
<text x="216.9" y="349.9" fill="#b0b0b0" font-size="9.4" text-anchor="start" font-weight="bold" textLength="14.4" lengthAdjust="spacingAndGlyphs">1m</text>
<text x="240.4" y="349.9" fill="#b0b0b0" font-size="9.4" text-anchor="start" font-weight="bold" textLength="14.3" lengthAdjust="spacingAndGlyphs">5m</text>
<text x="295.3" y="349.9" fill="#b0b0b0" font-size="9.4" text-anchor="start" font-weight="bold" textLength="20.5" lengthAdjust="spacingAndGlyphs">30m</text>
<text x="324.8" y="349.9" fill="#b0b0b0" font-size="9.4" text-anchor="start" font-weight="bold" textLength="11.6" lengthAdjust="spacingAndGlyphs">1h</text>
<text x="264" y="350" fill="#ffffff" font-size="10.2" text-anchor="start" font-weight="bold" textLength="22.3" lengthAdjust="spacingAndGlyphs">10m</text>
<text x="235.9" y="350.3" fill="#606060" font-size="11" text-anchor="middle" font-weight="normal">|</text>
<text x="259.6" y="350.3" fill="#606060" font-size="11" text-anchor="middle" font-weight="normal">|</text>
<text x="291.4" y="350.3" fill="#606060" font-size="11" text-anchor="middle" font-weight="normal">|</text>
<text x="320.3" y="350.3" fill="#606060" font-size="11" text-anchor="middle" font-weight="normal">|</text>
</svg>
</body></html>
